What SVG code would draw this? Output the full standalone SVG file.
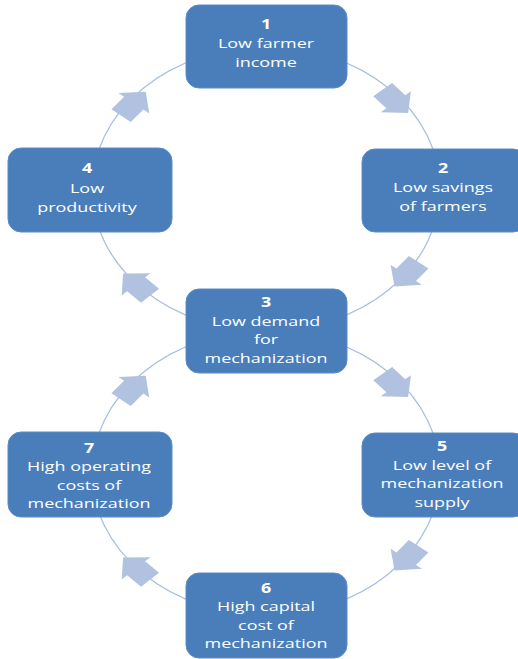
<svg xmlns="http://www.w3.org/2000/svg" width="518" height="659" viewBox="0 0 518 659">
<defs>
<style>
.box{fill:#4A7EBB;stroke:#5A8CC6;stroke-width:1}
.lbl{font-family:"Open Sans","Noto Sans","DejaVu Sans",sans-serif;font-size:13.5px;fill:#fff;text-anchor:middle}
.num{font-weight:bold}
.arc{fill:none;stroke:#A9BFE2;stroke-width:1.3}
.arr{fill:#B0C2DF}
</style>
<polygon id="ar" points="-15,-10 1,-10 1,-16 16,0 1,16 1,10 -15,10"/>
</defs>
<rect width="518" height="659" fill="#fff"/>
<g id="connectors">
<path class="arc" d="M266,47 A174,142 0 0 1 440,189 A174,142 0 0 1 266,331 A174,142 0 0 1 92,189 A174,142 0 0 1 266,47"/>
<path class="arc" d="M266,331 A174,142 0 0 1 440,473 A174,142 0 0 1 266,615 A174,142 0 0 1 92,473 A174,142 0 0 1 266,331"/>
<use href="#ar" class="arr" transform="translate(395,101) scale(1.25,1) rotate(49)"/>
<use href="#ar" class="arr" transform="translate(407,274) scale(1.25,1) rotate(128.5)"/>
<use href="#ar" class="arr" transform="translate(137,285) scale(1.25,1) rotate(226)"/>
<use href="#ar" class="arr" transform="translate(133,104) scale(1.25,1) rotate(-50.5)"/>
<use href="#ar" class="arr" transform="translate(395,385) scale(1.25,1) rotate(49)"/>
<use href="#ar" class="arr" transform="translate(407,558) scale(1.25,1) rotate(128.5)"/>
<use href="#ar" class="arr" transform="translate(137,569) scale(1.25,1) rotate(226)"/>
<use href="#ar" class="arr" transform="translate(133,388) scale(1.25,1) rotate(-50.5)"/>
</g>
<g id="n1">
<rect class="box" x="186" y="5" width="161" height="83" rx="13"/>
<g transform="translate(266,0) scale(1.33,1)"><text class="lbl"><tspan class="num" x="0" y="29">1</tspan><tspan x="0" y="48">Low farmer</tspan><tspan x="0" y="67">income</tspan></text></g>
</g>
<g id="n2">
<rect class="box" x="362" y="149" width="164" height="83" rx="13"/>
<g transform="translate(443,0) scale(1.33,1)"><text class="lbl"><tspan class="num" x="0" y="173">2</tspan><tspan x="0" y="192">Low savings</tspan><tspan x="0" y="211">of farmers</tspan></text></g>
</g>
<g id="n4">
<rect class="box" x="8" y="148" width="164" height="84" rx="13"/>
<g transform="translate(87,0) scale(1.33,1)"><text class="lbl"><tspan class="num" x="0" y="173">4</tspan><tspan x="0" y="193">Low</tspan><tspan x="0" y="212">productivity</tspan></text></g>
</g>
<g id="n3">
<rect class="box" x="186" y="289" width="161" height="84" rx="13"/>
<g transform="translate(266,0) scale(1.33,1)"><text class="lbl"><tspan class="num" x="0" y="307.5">3</tspan><tspan x="0" y="326">Low demand</tspan><tspan x="0" y="344.5">for</tspan><tspan x="0" y="363">mechanization</tspan></text></g>
</g>
<g id="n5">
<rect class="box" x="362" y="433" width="164" height="84" rx="13"/>
<g transform="translate(442,0) scale(1.33,1)"><text class="lbl"><tspan class="num" x="0" y="451">5</tspan><tspan x="0" y="470">Low level of</tspan><tspan x="0" y="488.5">mechanization</tspan><tspan x="0" y="507">supply</tspan></text></g>
</g>
<g id="n7">
<rect class="box" x="8" y="432" width="164" height="85" rx="13"/>
<g transform="translate(89,0) scale(1.33,1)"><text class="lbl"><tspan class="num" x="0" y="453">7</tspan><tspan x="0" y="471.5">High operating</tspan><tspan x="0" y="490">costs of</tspan><tspan x="0" y="508.5">mechanization</tspan></text></g>
</g>
<g id="n6">
<rect class="box" x="186" y="573" width="161" height="85" rx="13"/>
<g transform="translate(266,0) scale(1.33,1)"><text class="lbl"><tspan class="num" x="0" y="593">6</tspan><tspan x="0" y="611.5">High capital</tspan><tspan x="0" y="630">cost of</tspan><tspan x="0" y="648.5">mechanization</tspan></text></g>
</g>
</svg>
